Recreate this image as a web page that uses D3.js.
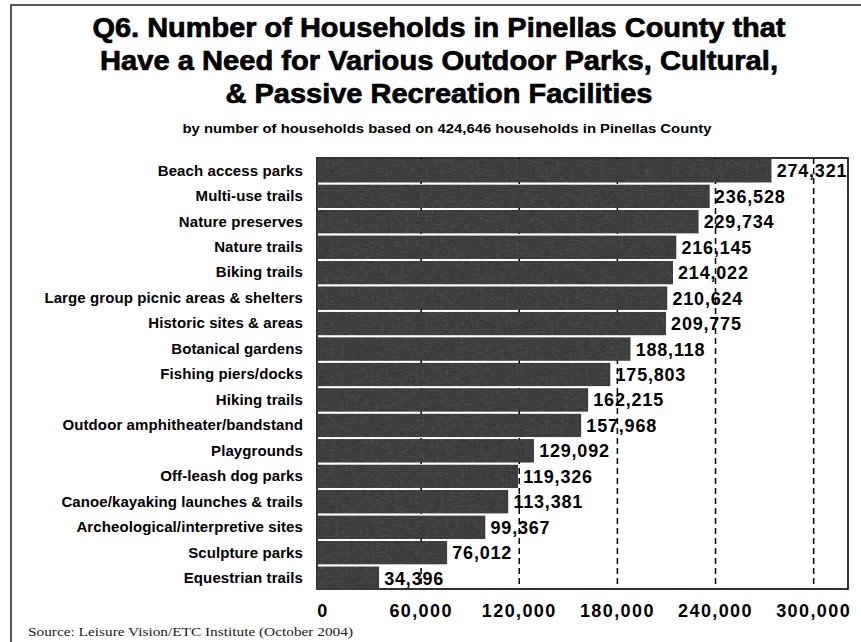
<!DOCTYPE html>
<meta charset="utf-8">
<head>
<style>
body { margin: 0; background: #fff; }
svg { display: block; }
.cat { font-family: "Liberation Sans", Arial, sans-serif; font-weight: bold; font-size: 15px; letter-spacing: 0.1px; }
.val { font-family: "Liberation Sans", Arial, sans-serif; font-weight: bold; font-size: 18px; letter-spacing: 0.8px; }
.tick-lbl { font-family: "Liberation Sans", Arial, sans-serif; font-weight: bold; font-size: 18px; letter-spacing: 1.4px; }
.title { font-family: "Liberation Sans", Arial, sans-serif; font-weight: bold; font-size: 28px; stroke: #000; stroke-width: 0.7px; }
.sub { font-family: "Liberation Sans", Arial, sans-serif; font-weight: bold; font-size: 12px; }
.grid { stroke: #000; stroke-width: 1.5px; stroke-dasharray: 6,4; }
</style>
</head>
<body>
<script src="https://d3js.org/d3.v7.min.js"></script>
<script>

// data
var categories = [
  "Beach access parks",
  "Multi-use trails",
  "Nature preserves",
  "Nature trails",
  "Biking trails",
  "Large group picnic areas & shelters",
  "Historic sites & areas",
  "Botanical gardens",
  "Fishing piers/docks",
  "Hiking trails",
  "Outdoor amphitheater/bandstand",
  "Playgrounds",
  "Off-leash dog parks",
  "Canoe/kayaking launches & trails",
  "Archeological/interpretive sites",
  "Sculpture parks",
  "Equestrian trails"
];
var households = [274321, 236528, 229734, 216145, 214022, 210624, 209775, 188118,
  175803, 162215, 157968, 129092, 119326, 113381, 99367, 76012, 34396];
var tickValues = [0, 60000, 120000, 180000, 240000, 300000];
var titleLines = [
  "Q6. Number of Households in Pinellas County that",
  "Have a Need for Various Outdoor Parks, Cultural,",
  "& Passive Recreation Facilities"
];
var subtitle = "by number of households based on 424,646 households in Pinellas County";
var source = "Source:  Leisure Vision/ETC Institute (October 2004)";

var W = 861, H = 642;
var plot = {left: 317, right: 848, top: 158, bottom: 590};

var svg = d3.select("body").append("svg")
    .attr("width", W)
    .attr("height", H);

// grainy texture for the scanned-looking bars
var filt = svg.append("defs").append("filter")
    .attr("id", "grain")
    .attr("color-interpolation-filters", "sRGB")
    .attr("x", 0).attr("y", 0).attr("width", 1).attr("height", 1);
filt.append("feTurbulence")
    .attr("type", "fractalNoise")
    .attr("baseFrequency", "0.2 0.5")
    .attr("numOctaves", 2)
    .attr("seed", 3)
    .attr("result", "noise");
filt.append("feColorMatrix")
    .attr("in", "noise")
    .attr("type", "saturate")
    .attr("values", 0)
    .attr("result", "gray");
filt.append("feComposite")
    .attr("in", "SourceGraphic")
    .attr("in2", "gray")
    .attr("operator", "arithmetic")
    .attr("k1", 0).attr("k2", 1).attr("k3", 0.22).attr("k4", -0.11)
    .attr("result", "mix");
filt.append("feComposite")
    .attr("in", "mix")
    .attr("in2", "SourceGraphic")
    .attr("operator", "in");

// outer border (left + top)
svg.append("path")
    .attr("d", "M11," + H + "V5H" + W)
    .attr("fill", "none")
    .attr("stroke", "#222")
    .attr("stroke-width", 1.5);

// title
var titleY = [37, 70, 103], titleW = [693, 678, 427];
svg.selectAll(".title")
    .data(titleLines)
  .enter().append("text")
    .attr("class", "title")
    .attr("x", 439)
    .attr("y", function(d, i) { return titleY[i]; })
    .attr("text-anchor", "middle")
    .attr("textLength", function(d, i) { return titleW[i]; })
    .attr("lengthAdjust", "spacingAndGlyphs")
    .text(function(d) { return d; });

svg.append("text")
    .attr("class", "sub")
    .attr("x", 447)
    .attr("y", 133)
    .attr("text-anchor", "middle")
    .attr("textLength", 529)
    .attr("lengthAdjust", "spacingAndGlyphs")
    .text(subtitle);

// scales
var x = d3.scaleLinear()
    .domain([0, 321000])
    .range([323, plot.right]);

var y = d3.scaleBand()
    .domain(categories)
    .range([plot.top + 1, plot.bottom])
    .paddingInner(0.07);

// plot frame
svg.append("rect")
    .attr("x", plot.left)
    .attr("y", plot.top)
    .attr("width", plot.right - plot.left)
    .attr("height", plot.bottom - plot.top - 1)
    .attr("fill", "none")
    .attr("stroke", "#000")
    .attr("stroke-width", 1.6);

// dashed gridlines
svg.selectAll(".grid")
    .data(tickValues.slice(1))
  .enter().append("line")
    .attr("class", "grid")
    .attr("x1", function(d) { return x(d); })
    .attr("x2", function(d) { return x(d); })
    .attr("y1", plot.top)
    .attr("y2", plot.bottom - 2);

// value labels
var fmt = d3.format(",");
svg.selectAll(".val")
    .data(households)
  .enter().append("text")
    .attr("class", "val")
    .attr("x", function(d) { return x(d) + 5; })
    .attr("y", function(d, i) { return y(categories[i]) + y.bandwidth() / 2; })
    .attr("dy", "0.36em")
    .text(function(d) { return fmt(d); });

// bars
svg.append("g")
    .attr("filter", "url(#grain)")
  .selectAll(".bar")
    .data(households)
  .enter().append("rect")
    .attr("class", "bar")
    .attr("x", plot.left)
    .attr("y", function(d, i) { return y(categories[i]); })
    .attr("width", function(d) { return x(d) - plot.left; })
    .attr("height", y.bandwidth())
    .attr("fill", "#4a4a4a");

// category labels
svg.append("g")
    .attr("transform", "translate(" + 303 + ",0)")
    .call(d3.axisLeft(y).tickSize(0).tickPadding(0))
    .call(function(g) { g.select(".domain").remove(); })
    .selectAll("text")
    .attr("class", "cat")
    .attr("fill", "#000")
    .attr("font-size", null)
    .attr("font-family", null);

// x tick labels
svg.selectAll(".tick-lbl")
    .data(tickValues)
  .enter().append("text")
    .attr("class", "tick-lbl")
    .attr("x", function(d) { return x(d); })
    .attr("y", 617)
    .attr("text-anchor", "middle")
    .text(function(d) { return fmt(d); });

// source note
svg.append("text")
    .attr("x", 28)
    .attr("y", 636)
    .attr("font-family", "'Liberation Serif', 'Times New Roman', serif")
    .attr("font-size", 13)
    .attr("fill", "#222")
    .attr("textLength", 325)
    .attr("lengthAdjust", "spacingAndGlyphs")
    .text(source);

</script>
</body>
